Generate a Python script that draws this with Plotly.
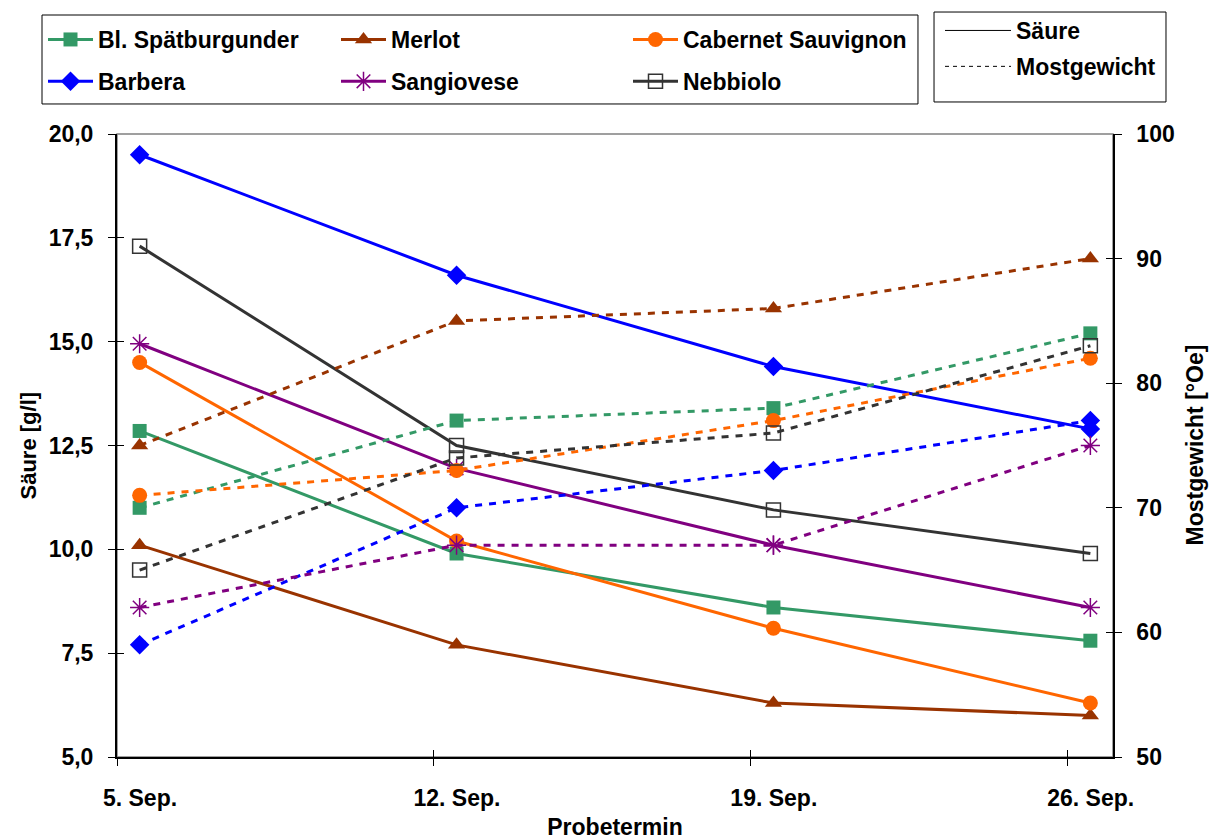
import plotly.graph_objects as go

# ---------------- data ----------------
dates = ["2009-09-05 12:00", "2009-09-12 12:00", "2009-09-19 12:00", "2009-09-26 12:00"]
tick_dates = ["2009-09-05", "2009-09-12", "2009-09-19", "2009-09-26"]
tick_labels = ["5. Sep.", "12. Sep.", "19. Sep.", "26. Sep."]

varieties = ["Bl. Spätburgunder", "Merlot", "Cabernet Sauvignon", "Barbera", "Sangiovese", "Nebbiolo"]

# Säure [g/l]
saeure_spaetburgunder = [12.85, 9.9, 8.6, 7.8]
saeure_merlot = [10.1, 7.7, 6.3, 6.0]
saeure_cabernet = [14.5, 10.2, 8.1, 6.3]
saeure_barbera = [19.5, 16.6, 14.4, 12.9]
saeure_sangiovese = [14.95, 11.95, 10.1, 8.6]
saeure_nebbiolo = [17.3, 12.5, 10.95, 9.9]

# Mostgewicht [°Oe]
most_spaetburgunder = [70, 77, 78, 84]
most_merlot = [75, 85, 86, 90]
most_cabernet = [71, 73, 77, 82]
most_barbera = [59, 70, 73, 77]
most_sangiovese = [62, 67, 67, 75]
most_nebbiolo = [65, 74, 76, 83]

saeure_series = [saeure_spaetburgunder, saeure_merlot, saeure_cabernet,
                 saeure_barbera, saeure_sangiovese, saeure_nebbiolo]
most_series = [most_spaetburgunder, most_merlot, most_cabernet,
               most_barbera, most_sangiovese, most_nebbiolo]

# ---------------- style ----------------
colors = ["#339966", "#993300", "#FF6600", "#0000FF", "#800080", "#333333"]
symbols = ["square", "triangle-up", "circle", "diamond", "asterisk-open", "square-open"]
msizes = [14, 15, 15, 15, 16, 14]
legends = ["legend", "legend2", "legend3", "legend", "legend2", "legend3"]

FONT = "Liberation Sans, Arial, sans-serif"
W, H = 1211, 840
L, R, T, B = 117, 98, 134, 83
PW = W - L - R
fig = go.Figure()

for i, name in enumerate(varieties):
    c = colors[i]
    marker = dict(symbol=symbols[i], size=msizes[i], color=c,
                  line=dict(color=c, width=1.5 if "open" in symbols[i] else 0))
    fig.add_trace(go.Scatter(
        x=dates, y=most_series[i], yaxis="y2", mode="lines+markers",
        line=dict(color=c, width=3, dash="7px,7px"), marker=marker,
        showlegend=False, legendgroup=name, name=name))
for i, name in enumerate(varieties):
    c = colors[i]
    marker = dict(symbol=symbols[i], size=msizes[i], color=c,
                  line=dict(color=c, width=1.5 if "open" in symbols[i] else 0))
    fig.add_trace(go.Scatter(
        x=dates, y=saeure_series[i], yaxis="y", mode="lines+markers",
        line=dict(color=c, width=3), marker=marker,
        legend=legends[i], legendgroup=name, name=name))

# line-style legend
fig.add_trace(go.Scatter(x=[None], y=[None], mode="lines", name="Säure",
                         line=dict(color="black", width=1), legend="legend4",
                         legendgroup="s"))
fig.add_trace(go.Scatter(x=[None], y=[None], mode="lines", name="Mostgewicht",
                         line=dict(color="black", width=1, dash="4px,4px"),
                         legend="legend4", legendgroup="m"))

# helper traces for the inner half of the crossing tick marks
fig.add_trace(go.Scatter(x=[], y=[], xaxis="x2", yaxis="y3", showlegend=False, hoverinfo="skip"))
fig.add_trace(go.Scatter(x=[], y=[], xaxis="x", yaxis="y4", showlegend=False, hoverinfo="skip"))

xrange = ["2009-09-05", "2009-09-27"]
legfont = dict(family=FONT, size=23, color="black", weight="bold")
common_leg = dict(xanchor="left", yanchor="top", bgcolor="rgba(0,0,0,0)",
                  borderwidth=0, font=legfont, traceorder="grouped",
                  tracegroupgap=9, xref="container", yref="container",
                  itemwidth=45)


def cx(px):
    return px / W


def cy(py):
    return 1 - py / H


def px_to_paper_x(px):
    return (px - L) / PW


titlefont = dict(family=FONT, size=22, color="black", weight="bold")

fig.update_layout(
    width=W, height=H,
    margin=dict(l=L, r=R, t=T, b=B, autoexpand=False),
    paper_bgcolor="white", plot_bgcolor="white",
    font=dict(family=FONT, size=23, color="black", weight="bold"),
    separators=",.",
    xaxis=dict(type="date", range=xrange, tickvals=tick_dates, ticktext=tick_labels,
               ticks="outside", ticklen=7, tickcolor="black", tickwidth=1,
               showline=True, linecolor="black", linewidth=2, showgrid=False,
               zeroline=False, ticklabelshift=23, ticklabelstandoff=12,
               automargin=False,
               title=dict(text="Probetermin", standoff=22,
                          font=dict(family=FONT, size=23, color="black", weight="bold"))),
    xaxis2=dict(type="date", range=xrange, tickvals=tick_dates, overlaying="x",
                anchor="y", side="bottom", ticks="inside", ticklen=7,
                tickcolor="black", showticklabels=False, showline=False,
                showgrid=False, zeroline=False, automargin=False),
    yaxis=dict(range=[5, 20], dtick=2.5, tick0=5, tickformat=".1f",
               ticks="outside", ticklen=7, tickcolor="black",
               showline=True, linecolor="black", linewidth=2, showgrid=False,
               zeroline=False, ticklabelstandoff=10, automargin=False),
    yaxis2=dict(range=[50, 100], dtick=10, tick0=50, overlaying="y", side="right",
                anchor="x", ticks="outside", ticklen=7, tickcolor="black",
                showline=True, linecolor="black", linewidth=1.5, showgrid=False,
                zeroline=False, ticklabelstandoff=10, automargin=False),
    yaxis3=dict(range=[5, 20], dtick=2.5, tick0=5, overlaying="y", side="left",
                anchor="x", ticks="inside", ticklen=7, tickcolor="black",
                showticklabels=False, showline=False, showgrid=False, zeroline=False,
                automargin=False),
    yaxis4=dict(range=[50, 100], dtick=10, tick0=50, overlaying="y", side="right",
                anchor="x", ticks="inside", ticklen=7, tickcolor="black",
                showticklabels=False, showline=False, showgrid=False, zeroline=False,
                automargin=False),
    legend=dict(x=cx(43), y=cy(18), **common_leg),
    legend2=dict(x=cx(336), y=cy(18), **common_leg),
    legend3=dict(x=cx(628), y=cy(18), **common_leg),
    legend4=dict(x=cx(940), y=cy(9), **dict(common_leg, tracegroupgap=3, itemwidth=66)),
    annotations=[
        dict(text="Säure [g/l]", textangle=-90, xref="paper", yref="paper",
             x=px_to_paper_x(28), y=0.5, xanchor="center", yanchor="middle",
             showarrow=False, font=titlefont),
        dict(text="Mostgewicht [°Oe]", textangle=-90, xref="paper", yref="paper",
             x=px_to_paper_x(1194), y=0.5, xanchor="center", yanchor="middle",
             showarrow=False, font=dict(titlefont, size=23)),
    ],
    shapes=[
        dict(type="rect", xref="paper", yref="paper", x0=0, x1=1, y0=0, y1=1,
             line=dict(color="#808080", width=1.5), layer="below"),
        dict(type="rect", xref="paper", yref="paper", x0=-0.0753, x1=0.8042,
             y0=1.0482, y1=1.191, line=dict(color="black", width=1)),
        dict(type="rect", xref="paper", yref="paper", x0=0.8203, x1=1.0532,
             y0=1.0514, y1=1.1958, line=dict(color="black", width=1)),
    ],
)

fig.write_html("out.html")
